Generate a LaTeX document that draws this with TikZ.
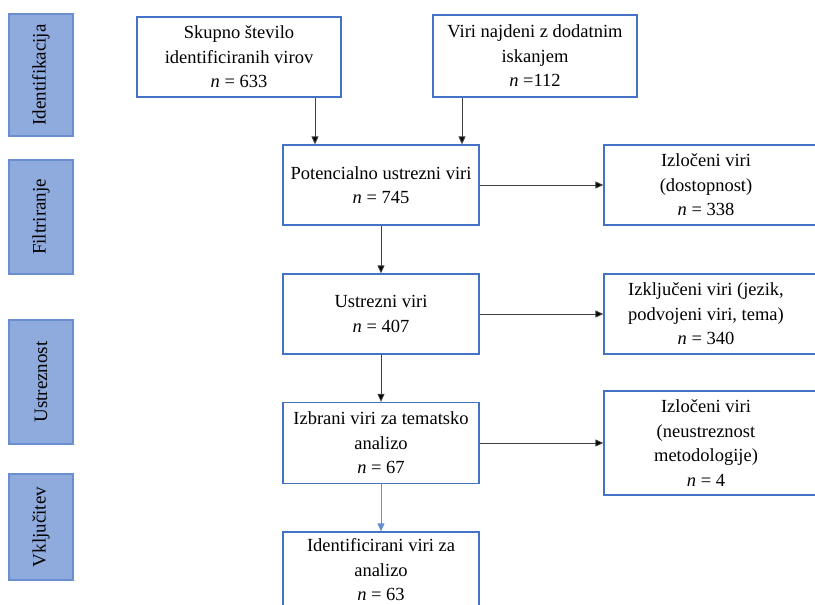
\documentclass[tikz,border=0pt]{standalone}
\usepackage{fontspec}
\setmainfont{Liberation Serif}
\usetikzlibrary{arrows.meta}
\definecolor{boxblue}{HTML}{4472C4}
\definecolor{sidefill}{HTML}{8FAADC}
\definecolor{sideline}{HTML}{6A8FD0}
\definecolor{linegray}{HTML}{404040}
\tikzset{
  flowbox/.style={draw=boxblue, line width=1.3pt, minimum width=196pt, minimum height=80pt, align=center, inner sep=0pt,
    font=\fontsize{18.5pt}{24.5pt}\selectfont},
  sidebox/.style={draw=sideline, fill=sidefill, line width=1.2pt, minimum width=64pt, inner sep=0pt},
  sidetext/.style={rotate=90, font=\fontsize{19pt}{22pt}\selectfont},
  txt/.style={align=center, inner sep=0pt, font=\fontsize{18.5pt}{24.5pt}\selectfont},
  conn/.style={draw=linegray, line width=0.9pt, -{Triangle[length=8pt,width=7pt,fill=black]}},
  connblue/.style={draw=boxblue!80, line width=0.9pt, -{Triangle[length=8pt,width=7pt]}}
}
\begin{document}
\begin{tikzpicture}[x=1pt,y=-1pt]
\useasboundingbox (0,0) rectangle (815,605);
% side labels
\node[sidebox, minimum height=122pt] (s1) at (41,75) {};
\node[sidetext] (s1t) at (s1.center) {Identifikacija};
\node[sidebox, minimum height=114pt] (s2) at (41,217) {};
\node[sidetext] (s2t) at (s2.center) {Filtriranje};
\node[sidebox, minimum height=124pt] (s3) at (41,382) {};
\node[sidetext] (s3t) at (s3.center) {Ustreznost};
\node[sidebox, minimum height=106pt] (s4) at (41,527) {};
\node[sidetext] (s4t) at (s4.center) {Vključitev};
% main column
\node[flowbox, minimum width=204pt] (b1) at (239,57) {Skupno število\\identificiranih virov\\\textit{n} = 633};
\node[flowbox, minimum width=204pt, minimum height=82pt] (b2) at (535,56) {Viri najdeni z dodatnim\\iskanjem\\\textit{n} =112};
\node[flowbox] (pot) at (381,185) {Potencialno ustrezni viri\\\textit{n} = 745};
\node[flowbox] (ustr) at (381,314) {Ustrezni viri\\\textit{n} = 407};
\node[flowbox, minimum height=81pt] (izb) at (381,443) {Izbrani viri za tematsko\\analizo\\\textit{n} = 67};
\node[flowbox, minimum height=76pt] (ident) at (381,570) {Identificirani viri za\\analizo\\\textit{n} = 63};
% right column
\node[flowbox, minimum width=220pt] (r1) at (714,185) {};
\node[txt] (r1t) at (706,185) {Izločeni viri\\(dostopnost)\\\textit{n} = 338};
\node[flowbox, minimum width=220pt] (r2) at (714,314) {};
\node[txt] (r2t) at (706,314) {Izključeni viri (jezik,\\podvojeni viri, tema)\\\textit{n} = 340};
\node[flowbox, minimum width=220pt, minimum height=104pt] (r3) at (714,443) {};
\node[txt] (r3t) at (706,443) {Izločeni viri\\(neustreznost\\metodologije)\\\textit{n} = 4};
% connectors
\draw[conn] (b1.south -| 315,0) -- (pot.north -| 315,0);
\draw[conn] (b2.south -| 462,0) -- (pot.north -| 462,0);
\draw[conn] (pot) -- (ustr);
\draw[conn] (ustr) -- (izb);
\draw[connblue] (izb) -- (ident);
\draw[conn] (pot.east) -- (r1.west);
\draw[conn] (ustr.east) -- (r2.west);
\draw[conn] (izb.east) -- (r3.west);
\end{tikzpicture}
\end{document}
